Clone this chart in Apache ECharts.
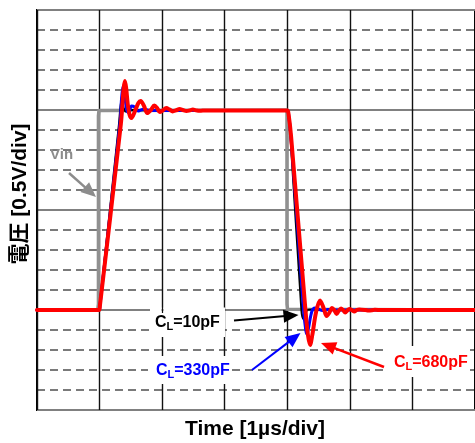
<!DOCTYPE html>
<html>
<head>
<meta charset="utf-8">
<script src="https://cdn.jsdelivr.net/npm/echarts@6/dist/echarts.min.js"></script>
<style>html,body{margin:0;padding:0;background:#fff;}#c{width:475px;height:443px;}</style>
</head>
<body>
<div id="c"></div>
<script>
// ---- data (x: µs, y: V) ----
const xTitle = 'Time [1µs/div]';
const yTitle = '電圧 [0.5V/div]';
const vinLabel = 'Vin';
const labels10 = ['C', 'L', '=10pF'];
const labels330 = ['C', 'L', '=330pF'];
const labels680 = ['C', 'L', '=680pF'];

const vinData = [[0,0],[0.97,0],[0.982,0.03],[0.982,0.97],[0.99,0.997],[1.005,1.0],[3.985,1.0],[3.995,0.985],[3.995,0.03],[4.003,0.004],[4.02,0],[7,0]];
const cl10Data = [[0,0],[0.99,0],[1.0,0.02],[1.31,0.93],[1.335,1.02],[1.355,1.045],[1.385,1.01],[1.42,0.992],[1.48,1.0],[2.5,0.998],[4.0,0.998],[4.02,0.97],[4.05,0.87],[4.225,0],[4.255,-0.045],[4.285,-0.03],[4.32,0],[4.4,0.003],[4.5,0],[7,0]];
const cl330Data = [[0,0],[0.993,0],[1.005,0.02],[1.325,0.93],[1.352,1.06],[1.376,1.12],[1.40,1.075],[1.435,1.0],[1.465,0.985],[1.51,1.02],[1.56,1.015],[1.62,0.995],[1.7,1.004],[1.8,0.998],[4.0,0.998],[4.02,0.98],[4.06,0.86],[4.26,0],[4.295,-0.1],[4.315,-0.12],[4.34,-0.09],[4.39,-0.01],[4.44,0.01],[4.5,0.004],[4.56,-0.003],[4.65,0.002],[4.8,0],[7,0]];
const cl680Data = [[0,0],[0.993,0],[1.005,0.02],[1.34,0.93],[1.37,1.05],[1.385,1.11],[1.405,1.145],[1.425,1.11],[1.45,1.03],[1.48,0.975],[1.51,0.96],[1.56,0.99],[1.62,1.035],[1.658,1.045],[1.71,1.02],[1.762,0.985],[1.82,1.0],[1.874,1.022],[1.92,1.01],[1.961,0.99],[2.01,0.998],[2.065,1.01],[2.12,1.002],[2.169,0.993],[2.22,0.998],[2.28,1.005],[2.33,1.0],[2.39,0.995],[2.44,0.998],[2.49,1.002],[2.55,0.998],[2.6,0.996],[2.7,0.998],[3.2,0.997],[4.0,0.997],[4.02,0.98],[4.06,0.87],[4.29,0],[4.33,-0.125],[4.365,-0.175],[4.40,-0.125],[4.46,-0.01],[4.524,0.047],[4.58,0.01],[4.629,-0.03],[4.67,-0.015],[4.715,0.01],[4.75,0],[4.789,-0.02],[4.82,-0.005],[4.859,0.0075],[4.89,0],[4.927,-0.0125],[4.96,-0.002],[4.991,0.005],[5.03,0],[5.071,-0.0075],[5.11,0],[5.15,0.003],[5.25,0],[5.3,-0.003],[5.4,0.001],[5.5,0],[7,0]];

const FONT = '"Liberation Sans", Arial, "Noto Sans CJK JP", sans-serif';

function arrow(x1, y1, x2, y2, color, w) {
  const a = Math.atan2(y2 - y1, x2 - x1);
  const L = 15, W = 6.5;
  const c = Math.cos(a), s = Math.sin(a);
  const bx = x2 - L * c, by = y2 - L * s;
  return [
    {type: 'line', z: 100, shape: {x1: x1, y1: y1, x2: bx + 2 * c, y2: by + 2 * s}, style: {stroke: color, lineWidth: w}},
    {type: 'polygon', z: 100, shape: {points: [[x2, y2], [bx - W * s, by + W * c], [bx + W * s, by - W * c]]}, style: {fill: color}}
  ];
}
function rect(x, y, w, h) {
  return {type: 'rect', z: 90, shape: {x: x, y: y, width: w, height: h}, style: {fill: '#fff'}};
}
function txt(x, y, t, size, color, extra) {
  return Object.assign({type: 'text', z: 110, x: x, y: y,
    style: {text: t, fontSize: size, fontWeight: 'bold', fontFamily: FONT, fill: color, textAlign: 'left', textVerticalAlign: 'middle'}}, extra || {});
}
function clLabel(x, y, parts, color) {
  return [
    txt(x, y, parts[0], 16, color),
    txt(x + 11.5, y + 4, parts[1], 11, color),
    txt(x + 18.2, y, parts[2], 16, color)
  ];
}

const graphics = [].concat(
  [rect(150, 313, 75, 24), rect(150, 307.5, 11.5, 5.5), rect(163.5, 307.5, 61.5, 5.5), rect(148, 356, 83, 28), rect(388, 346, 82, 31)],
  clLabel(155, 322.5, labels10, '#000'),
  clLabel(156, 371, labels330, '#0000ff'),
  clLabel(394, 362.5, labels680, '#ff0000'),
  [txt(50, 155, vinLabel, 15, '#8c8c8c')],
  arrow(69, 173, 96, 197, '#8c8c8c', 2.5),
  arrow(234, 320.5, 298.5, 315, '#000', 2),
  arrow(252, 370, 300.5, 333, '#0000ff', 2),
  arrow(384, 367, 321, 343, '#ff0000', 2.5),
  [txt(255, 429, xTitle, 21, '#000', {style: {text: xTitle, fontSize: 21, fontWeight: 'bold', fontFamily: FONT, fill: '#000', textAlign: 'center', textVerticalAlign: 'middle'}})],
  [{type: 'text', z: 110, x: 20, y: 194, rotation: Math.PI / 2,
    style: {text: yTitle, fontSize: 21, fontWeight: 'bold', fontFamily: FONT, fill: '#000', textAlign: 'center', textVerticalAlign: 'middle'}}]
);

const chart = echarts.init(document.getElementById('c'));
function lineSeries(data, color, width) {
  return {type: 'line', data: data, showSymbol: false, symbol: 'none', smooth: 0.3,
    lineStyle: {color: color, width: width, cap: 'round', join: 'round'}, animation: false, silent: true};
}
chart.setOption({
  animation: false,
  grid: {left: 37, top: 10, right: -1, bottom: 33, show: true, borderColor: '#000', borderWidth: 2, backgroundColor: '#fff', z: 0},
  xAxis: {type: 'value', min: 0, max: 7, interval: 1,
    axisLine: {show: false}, axisTick: {show: false}, axisLabel: {show: false},
    splitLine: {show: true, lineStyle: {color: '#111', width: 1.4}}},
  yAxis: {type: 'value', min: -0.5, max: 1.5, interval: 0.5,
    axisLine: {show: false}, axisTick: {show: false}, axisLabel: {show: false},
    splitLine: {show: true, lineStyle: {color: '#808080', width: 2}},
    minorTick: {show: false, splitNumber: 5},
    minorSplitLine: {show: true, lineStyle: {color: '#7a7a7a', width: 2, type: [8, 5]}}},
  series: [
    Object.assign(lineSeries(vinData, '#909090', 3.5), {smooth: false}),
    lineSeries(cl10Data, '#000000', 2),
    lineSeries(cl330Data, '#0000ff', 3),
    lineSeries(cl680Data, '#ff0000', 4)
  ],
  graphic: graphics
});
</script>
</body>
</html>
